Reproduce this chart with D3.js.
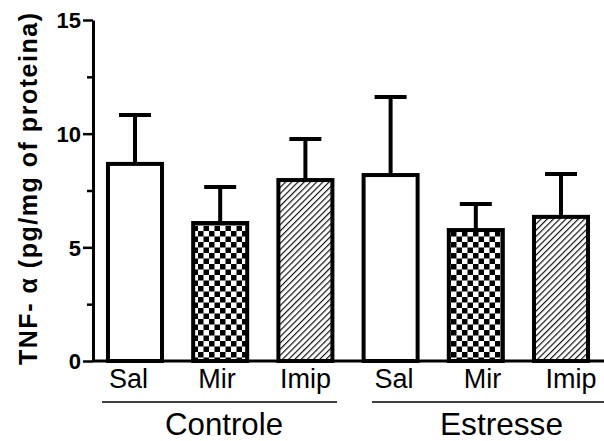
<!DOCTYPE html>
<html>
<head>
<meta charset="utf-8">
<script src="https://cdn.jsdelivr.net/npm/d3@7"></script>
<style>
  html, body { margin: 0; padding: 0; background: #fff; }
  svg { display: block; }
  text { font-family: "Liberation Sans", Arimo, Arial, Helvetica, sans-serif; fill: #000; }
</style>
</head>
<body>
<div id="chart"></div>
<script>
// ---- data ----
const groups = ["Controle", "Estresse"];
const treatments = ["Sal", "Mir", "Imip"];
const controleMeans = [8.67, 6.07, 7.96];
const controleSEM   = [2.15, 1.58, 1.81];
const estresseMeans = [8.18, 5.76, 6.34];
const estresseSEM   = [3.43, 1.15, 1.89];
const yTicks = [0, 5, 10, 15];
const yMinorTicks = [2.5, 7.5, 12.5];
const yTitle = "TNF-  \u03b1  (pg/mg of proteina)";

const rows = [];
groups.forEach((g, gi) => {
  const means = gi === 0 ? controleMeans : estresseMeans;
  const sems = gi === 0 ? controleSEM : estresseSEM;
  treatments.forEach((t, ti) => {
    rows.push({ id: g + "-" + t, group: g, treat: t, mean: means[ti], sem: sems[ti] });
  });
});

const W = 604, H = 441;
const FONT = "'Liberation Sans', Arimo, Arial, Helvetica, sans-serif";
const svg = d3.select("#chart").append("svg").attr("width", W).attr("height", H);

// patterns
const defs = svg.append("defs");
const chk = defs.append("pattern").attr("id", "checker")
  .attr("patternUnits", "userSpaceOnUse").attr("width", 11).attr("height", 11);
chk.append("rect").attr("width", 11).attr("height", 11).attr("fill", "#fff");
chk.append("rect").attr("x", 0).attr("y", 0).attr("width", 5.5).attr("height", 5.5).attr("fill", "#000");
chk.append("rect").attr("x", 5.5).attr("y", 5.5).attr("width", 5.5).attr("height", 5.5).attr("fill", "#000");

const hatch = defs.append("pattern").attr("id", "hatch")
  .attr("patternUnits", "userSpaceOnUse").attr("width", 4.4).attr("height", 4.4)
  .attr("patternTransform", "rotate(45)");
hatch.append("rect").attr("width", 4.4).attr("height", 4.4).attr("fill", "#fff");
hatch.append("line").attr("x1", 0.6).attr("y1", 0).attr("x2", 0.6).attr("y2", 4.4)
  .attr("stroke", "#000").attr("stroke-width", 1.1);

const fillFor = { Sal: "#fff", Mir: "url(#checker)", Imip: "url(#hatch)" };

// scales
const axisX = 93;
const y = d3.scaleLinear().domain([0, 15]).range([361, 20]);
const x = d3.scaleBand().domain(rows.map(d => d.id))
  .range([96, 600]).paddingInner(0.319).paddingOuter(0.117);
const xl = d3.scalePoint().domain(rows.map(d => d.id)).range([128.5, 571]);

// baseline
svg.append("line")
  .attr("x1", axisX).attr("x2", W).attr("y1", y(0)).attr("y2", y(0))
  .attr("stroke", "#000").attr("stroke-width", 3);

// error bars
const eg = svg.append("g");
rows.forEach(d => {
  const cx = x(d.id) + x.bandwidth() / 2;
  eg.append("line").attr("x1", cx).attr("x2", cx)
    .attr("y1", y(d.mean)).attr("y2", y(d.mean + d.sem))
    .attr("stroke", "#000").attr("stroke-width", 4);
  eg.append("line").attr("x1", cx - 16).attr("x2", cx + 16)
    .attr("y1", y(d.mean + d.sem)).attr("y2", y(d.mean + d.sem))
    .attr("stroke", "#000").attr("stroke-width", 4);
});

// bars
svg.append("g").selectAll("rect").data(rows).join("rect")
  .attr("x", d => x(d.id) + 2)
  .attr("y", d => y(d.mean))
  .attr("width", x.bandwidth() - 4)
  .attr("height", d => y(0) - y(d.mean))
  .attr("fill", d => fillFor[d.treat])
  .attr("stroke", "#000").attr("stroke-width", 4);

// y axis
const yAxis = d3.axisLeft(y).tickValues(yTicks).tickSize(10).tickSizeOuter(0).tickPadding(2)
  .tickFormat(d3.format("d"));
const ya = svg.append("g").attr("transform", `translate(${axisX},0)`).call(yAxis);
ya.attr("font-family", FONT);
ya.select(".domain").attr("stroke", "#000").attr("stroke-width", 3);
ya.selectAll(".tick line").attr("stroke", "#000").attr("stroke-width", 2.5);
ya.selectAll(".tick text")
  .attr("font-family", FONT)
  .attr("font-size", 22).attr("font-weight", "bold").attr("fill", "#000")
  .attr("dy", "0.36em");

const yMinor = d3.axisLeft(y).tickValues(yMinorTicks).tickSize(6).tickSizeOuter(0).tickFormat("");
const ym = svg.append("g").attr("transform", `translate(${axisX},0)`).call(yMinor);
ym.select(".domain").remove();
ym.selectAll(".tick line").attr("stroke", "#000").attr("stroke-width", 2.5);

// y title
svg.append("text")
  .attr("transform", `translate(37, 189) rotate(-90)`)
  .attr("text-anchor", "middle")
  .attr("font-size", 25).attr("font-weight", "bold")
  .attr("textLength", 352).attr("lengthAdjust", "spacing")
  .text(yTitle);

// x tick labels
svg.append("g").selectAll("text").data(rows).join("text")
  .attr("x", d => xl(d.id)).attr("y", 388)
  .attr("text-anchor", "middle").attr("font-size", 27)
  .text(d => d.treat);

// group lines + labels
const groupLen = { Controle: 118, Estresse: 123 };
groups.forEach((g, gi) => {
  const ids = rows.filter(r => r.group === g).map(r => xl(r.id));
  const x1 = gi === 0 ? ids[0] - 26.5 : ids[0] - 22;
  const x2 = gi === 0 ? ids[2] + 31.5 : W;
  svg.append("line").attr("x1", x1).attr("x2", x2).attr("y1", 402).attr("y2", 402)
    .attr("stroke", "#000").attr("stroke-width", 1.5);
  const cx = gi === 0 ? 224 : 501.5;
  svg.append("text").attr("x", cx).attr("y", 435)
    .attr("text-anchor", "middle").attr("font-size", 32)
    .attr("textLength", groupLen[g]).attr("lengthAdjust", "spacingAndGlyphs")
    .text(g);
});
</script>
</body>
</html>
